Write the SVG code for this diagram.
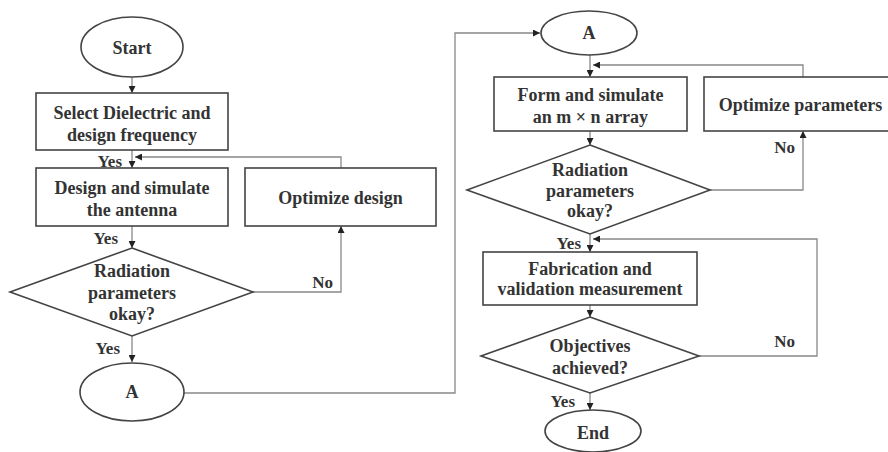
<svg xmlns="http://www.w3.org/2000/svg" width="888" height="452" viewBox="0 0 888 452">
<defs>
<marker id="ah" viewBox="0 0 10 10" refX="10" refY="5" markerWidth="7" markerHeight="7" markerUnits="userSpaceOnUse" orient="auto">
<path d="M0,0 L10,5 L0,10 z" fill="#222"/>
</marker>
<style>
.n{fill:#fff;stroke:#444;stroke-width:1.6}
.t{font-family:"Liberation Serif","Times New Roman",serif;font-weight:bold;font-size:18px;fill:#333;text-anchor:middle}
.l{font-family:"Liberation Serif","Times New Roman",serif;font-weight:bold;font-size:17px;fill:#333}
.c{fill:none;stroke:#888;stroke-width:1.3}
.a{marker-end:url(#ah)}
</style>
</defs>
<rect width="888" height="452" fill="#fff"/>
<g id="connectors">
<path class="c a" d="M132,77 V93"/>
<path class="c a" d="M132,150 V168"/>
<path class="c a" d="M341,168 V157 H135"/>
<path class="c a" d="M132,226 V248"/>
<path class="c a" d="M253,292 H341 V226"/>
<path class="c a" d="M132,336 V362"/>
<path class="c a" d="M184,393 H455 V33 H540"/>
<path class="c a" d="M590,55 V77"/>
<path class="c a" d="M803,77 V65 H593"/>
<path class="c a" d="M590,131 V145"/>
<path class="c a" d="M710,190 H803 V131"/>
<path class="c a" d="M590,234 V252"/>
<path class="c a" d="M699,356 H817 V239 H593"/>
<path class="c a" d="M590,305 V317"/>
<path class="c a" d="M590,393 V410"/>
<text class="l" x="122" y="167" text-anchor="end">Yes</text>
<text class="l" x="118" y="244" text-anchor="end">Yes</text>
<text class="l" x="333" y="288" text-anchor="end">No</text>
<text class="l" x="120" y="354" text-anchor="end">Yes</text>
<text class="l" x="795" y="153" text-anchor="end">No</text>
<text class="l" x="581" y="249" text-anchor="end">Yes</text>
<text class="l" x="795" y="347" text-anchor="end">No</text>
<text class="l" x="575" y="407" text-anchor="end">Yes</text>
</g>
<g id="start">
<ellipse class="n" cx="132" cy="47" rx="51" ry="30"/>
<text class="t" x="132" y="54">Start</text>
</g>
<g id="select">
<rect class="n" x="36" y="93" width="192" height="57"/>
<text class="t" x="132" y="119">Select Dielectric and</text>
<text class="t" x="132" y="141">design frequency</text>
</g>
<g id="design">
<rect class="n" x="36" y="168" width="192" height="58"/>
<text class="t" x="132" y="194">Design and simulate</text>
<text class="t" x="132" y="216">the antenna</text>
</g>
<g id="optdesign">
<rect class="n" x="245" y="168" width="191" height="58"/>
<text class="t" x="340.5" y="204">Optimize design</text>
</g>
<g id="radiation1">
<polygon class="n" points="132,248 253,292 132,336 10,292"/>
<text class="t" x="132" y="277">Radiation</text>
<text class="t" x="132" y="299">parameters</text>
<text class="t" x="132" y="320">okay?</text>
</g>
<g id="a1">
<ellipse class="n" cx="132" cy="392" rx="52" ry="29"/>
<text class="t" x="132" y="398">A</text>
</g>
<g id="a2">
<ellipse class="n" cx="589" cy="33" rx="48" ry="22"/>
<text class="t" x="589" y="39">A</text>
</g>
<g id="form">
<rect class="n" x="494" y="77" width="193" height="54"/>
<text class="t" x="590.5" y="101">Form and simulate</text>
<text class="t" x="590.5" y="123">an m × n array</text>
</g>
<g id="optparams">
<rect class="n" x="704" y="77" width="190" height="54"/>
<text class="t" x="800.5" y="111">Optimize parameters</text>
</g>
<g id="radiation2">
<polygon class="n" points="590,145 710,190 590,234 467,190"/>
<text class="t" x="590" y="176">Radiation</text>
<text class="t" x="590" y="197">parameters</text>
<text class="t" x="590" y="217">okay?</text>
</g>
<g id="fabrication">
<rect class="n" x="483" y="252" width="214" height="53"/>
<text class="t" x="590" y="275">Fabrication and</text>
<text class="t" x="590" y="295">validation measurement</text>
</g>
<g id="objectives">
<polygon class="n" points="590,317 699,356 590,393 481,356"/>
<text class="t" x="590" y="352">Objectives</text>
<text class="t" x="590" y="374">achieved?</text>
</g>
<g id="end">
<ellipse class="n" cx="593" cy="431" rx="48" ry="21"/>
<text class="t" x="593" y="439">End</text>
</g>
</svg>
